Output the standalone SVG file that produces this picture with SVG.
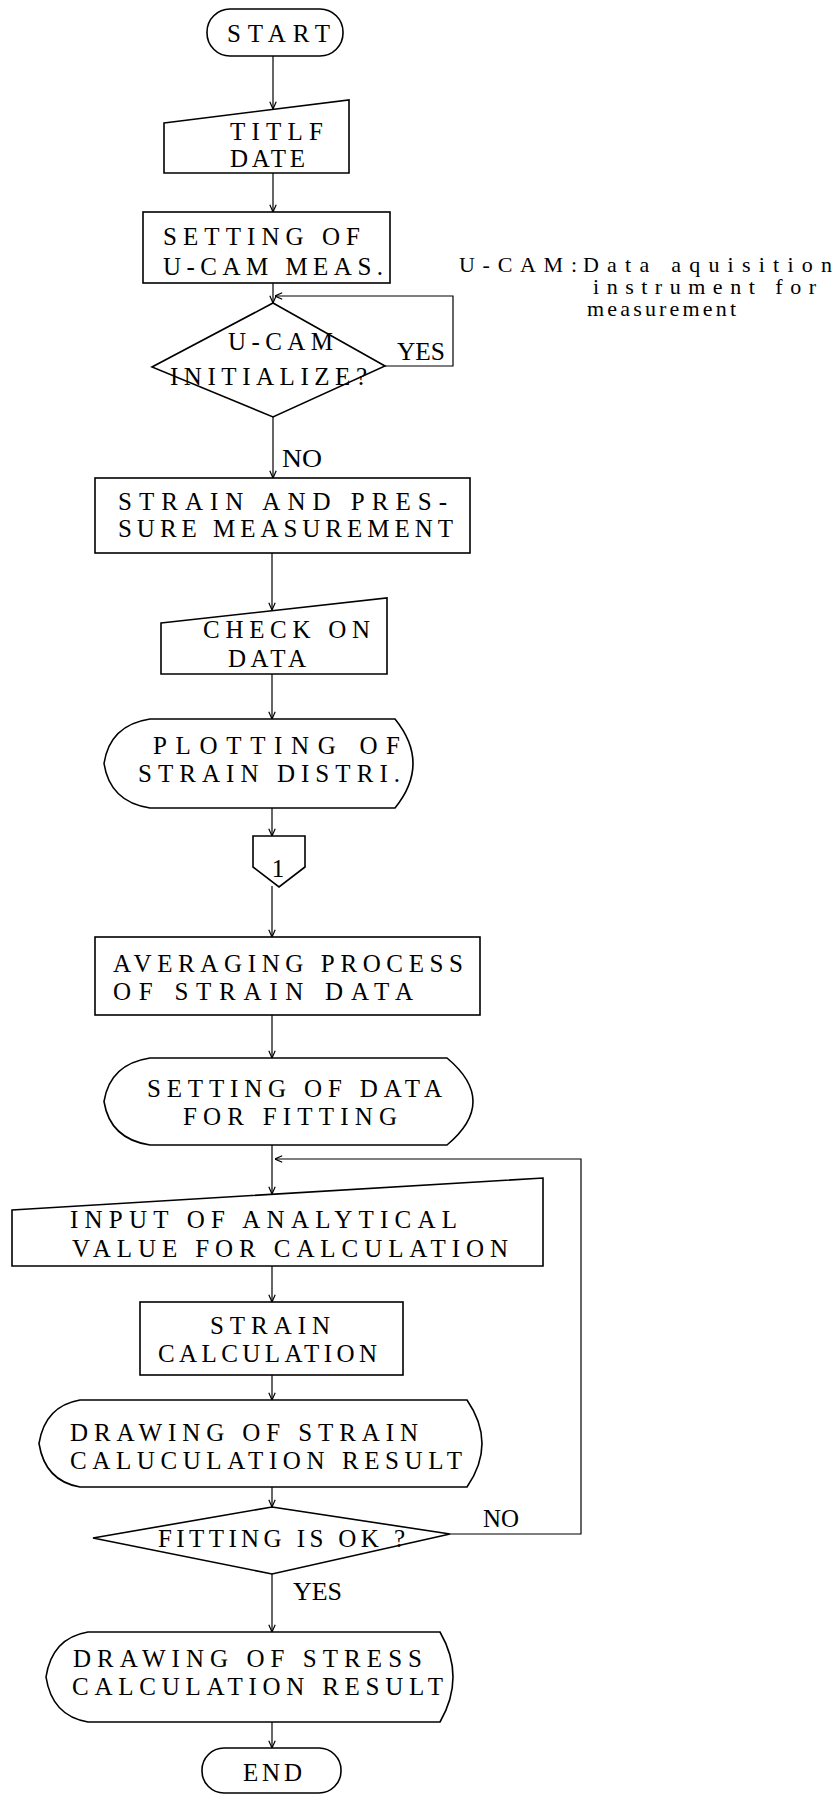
<svg xmlns="http://www.w3.org/2000/svg" width="836" height="1795" viewBox="0 0 836 1795">
<defs>
<style>
.s{fill:#fff;stroke:#000;stroke-width:1.6}
.c{fill:none;stroke:#000;stroke-width:1.2}
.t{font-family:"Liberation Serif","Times New Roman",serif;font-size:25px;fill:#000}
.l{font-family:"Liberation Serif","Times New Roman",serif;font-size:25px;fill:#000}
.n{font-family:"Liberation Serif","Times New Roman",serif;font-size:22px;fill:#000}
</style>
<marker id="ah" viewBox="0 0 10 10" refX="10" refY="5" markerWidth="8" markerHeight="8" markerUnits="userSpaceOnUse" orient="auto"><path d="M1,1 L10,5 L1,9" fill="none" stroke="#000" stroke-width="1.5"/></marker>
</defs>
<rect width="836" height="1795" fill="#fff"/>
<g id="connectors">
<line class="c" x1="273" y1="56" x2="273" y2="109" marker-end="url(#ah)"/>
<line class="c" x1="273" y1="173" x2="273" y2="212" marker-end="url(#ah)"/>
<line class="c" x1="273" y1="283" x2="273" y2="303" marker-end="url(#ah)"/>
<polyline class="c" points="385,366 453,366 453,296 275,296" marker-end="url(#ah)"/>
<line class="c" x1="273" y1="417" x2="273" y2="478" marker-end="url(#ah)"/>
<line class="c" x1="272" y1="553" x2="272" y2="610" marker-end="url(#ah)"/>
<line class="c" x1="272" y1="674" x2="272" y2="719" marker-end="url(#ah)"/>
<line class="c" x1="272" y1="808" x2="272" y2="836" marker-end="url(#ah)"/>
<line class="c" x1="272" y1="886" x2="272" y2="937" marker-end="url(#ah)"/>
<line class="c" x1="272" y1="1015" x2="272" y2="1058" marker-end="url(#ah)"/>
<line class="c" x1="272" y1="1145" x2="272" y2="1194" marker-end="url(#ah)"/>
<polyline class="c" points="450,1534 581,1534 581,1159 275,1159" marker-end="url(#ah)"/>
<line class="c" x1="272" y1="1266" x2="272" y2="1302" marker-end="url(#ah)"/>
<line class="c" x1="272" y1="1375" x2="272" y2="1400" marker-end="url(#ah)"/>
<line class="c" x1="272" y1="1487" x2="272" y2="1507" marker-end="url(#ah)"/>
<line class="c" x1="272" y1="1574" x2="272" y2="1632" marker-end="url(#ah)"/>
<line class="c" x1="272" y1="1722" x2="272" y2="1748" marker-end="url(#ah)"/>
<text class="l" x="397" y="360" textLength="48" lengthAdjust="spacingAndGlyphs">YES</text>
<text class="l" x="282" y="467" textLength="40" lengthAdjust="spacingAndGlyphs">NO</text>
<text class="l" x="483" y="1527" textLength="36" lengthAdjust="spacingAndGlyphs">NO</text>
<text class="l" x="293" y="1600" textLength="49" lengthAdjust="spacingAndGlyphs">YES</text>
</g>
<g id="start">
<rect class="s" x="207" y="9" width="136" height="47" rx="23"/>
<text class="t" x="227" y="42" textLength="103" lengthAdjust="spacing" font-size="27">START</text>
</g>
<g id="titlf">
<polygon class="s" points="164,123 349,100 349,173 164,173"/>
<text class="t" x="230" y="140" textLength="93" lengthAdjust="spacing">TITLF</text>
<text class="t" x="230" y="167" textLength="75" lengthAdjust="spacing">DATE</text>
</g>
<g id="setting-ucam">
<rect class="s" x="143" y="212" width="247" height="71"/>
<text class="t" x="163" y="245" textLength="197" lengthAdjust="spacing">SETTING OF</text>
<text class="t" x="163" y="275" textLength="220" lengthAdjust="spacing">U-CAM MEAS.</text>
</g>
<g id="ucam-init">
<polygon class="s" points="273,303 385,366 273,417 152,367"/>
<text class="t" x="228" y="350" textLength="105" lengthAdjust="spacing">U-CAM</text>
<text class="t" x="170" y="385" textLength="197" lengthAdjust="spacing">INITIALIZE?</text>
</g>
<g id="note">
<text class="n" x="459" y="272" font-size="23" textLength="118" lengthAdjust="spacing">U-CAM:</text>
<text class="n" x="583" y="272" textLength="249" lengthAdjust="spacing">Data aquisition</text>
<text class="n" x="593" y="294" textLength="223" lengthAdjust="spacing">instrument for</text>
<text class="n" x="587" y="316" textLength="149" lengthAdjust="spacing">measurement</text>
</g>
<g id="strain-pressure">
<rect class="s" x="95" y="478" width="375" height="75"/>
<text class="t" x="118" y="510" textLength="329" lengthAdjust="spacing">STRAIN AND PRES-</text>
<text class="t" x="118" y="537" textLength="335" lengthAdjust="spacing">SURE MEASUREMENT</text>
</g>
<g id="check-data">
<polygon class="s" points="161,623 387,598 387,674 161,674"/>
<text class="t" x="203" y="638" textLength="167" lengthAdjust="spacing">CHECK ON</text>
<text class="t" x="228" y="667" textLength="78" lengthAdjust="spacing">DATA</text>
</g>
<g id="plotting">
<path class="s" d="M150,719 L395,719 Q431,763.5 395,808 L150,808 Q110,802 104,763.5 Q110,725 150,719 Z"/>
<text class="t" x="153" y="754" textLength="247" lengthAdjust="spacing">PLOTTING OF</text>
<text class="t" x="138" y="782" textLength="262" lengthAdjust="spacing">STRAIN DISTRI.</text>
</g>
<g id="offpage-1">
<polygon class="s" points="253,836 305,836 305,867 279,887 253,867"/>
<text class="t" x="278" y="877" font-size="23" text-anchor="middle">1</text>
</g>
<g id="averaging">
<rect class="s" x="95" y="937" width="385" height="78"/>
<text class="t" x="113" y="972" textLength="350" lengthAdjust="spacing">AVERAGING PROCESS</text>
<text class="t" x="113" y="1000" textLength="300" lengthAdjust="spacing">OF STRAIN DATA</text>
</g>
<g id="setting-data">
<path class="s" d="M150,1058 L447,1058 Q499,1101.5 447,1145 L150,1145 Q110,1139 104,1101.5 Q110,1064 150,1058 Z"/>
<text class="t" x="147" y="1097" textLength="295" lengthAdjust="spacing">SETTING OF DATA</text>
<text class="t" x="183" y="1125" textLength="214" lengthAdjust="spacing">FOR FITTING</text>
</g>
<g id="input-analytical">
<polygon class="s" points="12,1210 543,1178 543,1266 12,1266"/>
<text class="t" x="70" y="1228" textLength="387" lengthAdjust="spacing">INPUT OF ANALYTICAL</text>
<text class="t" x="72" y="1257" textLength="436" lengthAdjust="spacing">VALUE FOR CALCULATION</text>
</g>
<g id="strain-calc">
<rect class="s" x="140" y="1302" width="263" height="73"/>
<text class="t" x="210" y="1334" textLength="120" lengthAdjust="spacing">STRAIN</text>
<text class="t" x="158" y="1362" textLength="219" lengthAdjust="spacing">CALCULATION</text>
</g>
<g id="drawing-strain">
<path class="s" d="M80,1400 L467,1400 Q497,1443.5 467,1487 L80,1487 Q45,1481 39,1443.5 Q45,1406 80,1400 Z"/>
<text class="t" x="70" y="1441" textLength="348" lengthAdjust="spacing">DRAWING OF STRAIN</text>
<text class="t" x="70" y="1469" textLength="392" lengthAdjust="spacing">CALUCULATION RESULT</text>
</g>
<g id="fitting-ok">
<polygon class="s" points="272,1507 450,1534 272,1574 93,1538"/>
<text class="t" x="158" y="1547" textLength="247" lengthAdjust="spacing">FITTING IS OK ?</text>
</g>
<g id="drawing-stress">
<path class="s" d="M88,1632 L440,1632 Q466,1677 440,1722 L88,1722 Q52,1716 46,1677 Q52,1638 88,1632 Z"/>
<text class="t" x="73" y="1667" textLength="349" lengthAdjust="spacing">DRAWING OF STRESS</text>
<text class="t" x="72" y="1695" textLength="371" lengthAdjust="spacing">CALCULATION RESULT</text>
</g>
<g id="end">
<rect class="s" x="202" y="1748" width="139" height="45" rx="22"/>
<text class="t" x="243" y="1781" textLength="59" lengthAdjust="spacing" font-size="26">END</text>
</g>
</svg>
